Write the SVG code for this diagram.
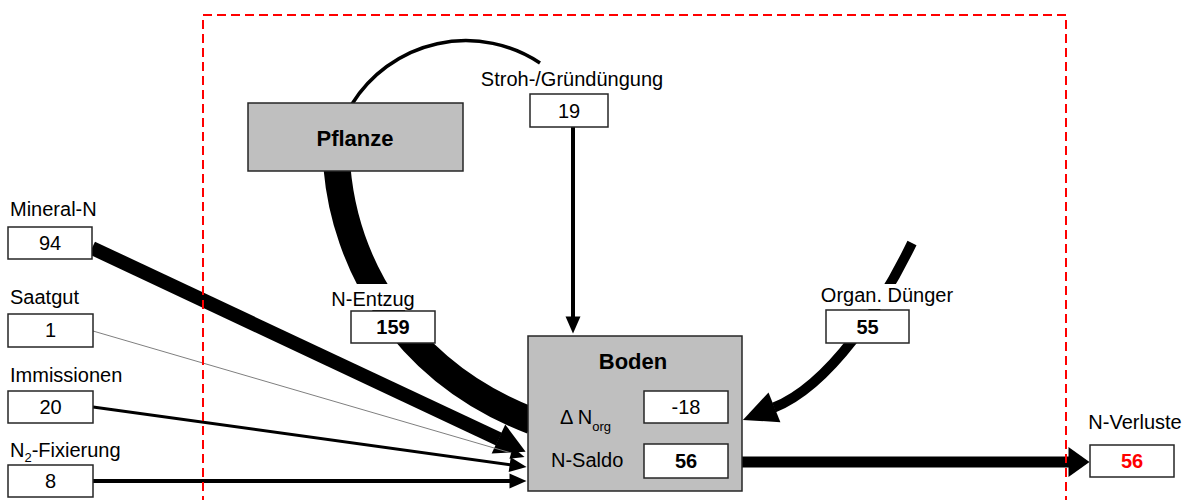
<svg xmlns="http://www.w3.org/2000/svg" width="1184" height="500" viewBox="0 0 1184 500">
<style>
  text { font-family: "Liberation Sans", Arial, sans-serif; font-size: 20px; fill: #000; }
  .c { text-anchor: middle; }
  .b { font-weight: bold; }
  .big { font-size: 22px; font-weight: bold; }
  .box { fill: #fff; stroke: #262626; stroke-width: 1.5; }
  .gbox { fill: #bfbfbf; stroke: #262626; stroke-width: 1.5; }
  .ln { fill: none; stroke: #000; }
  .thin { stroke: #7f7f7f; stroke-width: 1; }
  .red { fill: #ff0000; }
  .frame { fill: none; stroke: #ff0000; stroke-width: 2; stroke-dasharray: 9 5; }
</style>
<defs>
  <marker id="ah-s" markerUnits="userSpaceOnUse" markerWidth="17" markerHeight="15" refX="0.5" refY="7.5" orient="auto" overflow="visible"><path d="M0,0 L17,7.5 L0,15 z" fill="#000"/></marker>
  <marker id="ah-xs" markerUnits="userSpaceOnUse" markerWidth="14" markerHeight="12" refX="0.5" refY="6" orient="auto" overflow="visible"><path d="M0,0 L14,6 L0,12 z" fill="#000"/></marker>
  <marker id="ah-m" markerUnits="userSpaceOnUse" markerWidth="30" markerHeight="32" refX="0.5" refY="16" orient="auto" overflow="visible"><path d="M0,0 L30,16 L0,32 z" fill="#000"/></marker>
  <marker id="ah-v" markerUnits="userSpaceOnUse" markerWidth="21" markerHeight="30" refX="0.5" refY="15" orient="auto" overflow="visible"><path d="M0,0 L21,15 L0,30 z" fill="#000"/></marker>
  <marker id="ah-o" markerUnits="userSpaceOnUse" markerWidth="34" markerHeight="32" refX="0.5" refY="16" orient="auto" overflow="visible"><path d="M0,0 L34,16 L0,32 z" fill="#000"/></marker>
</defs>

<g id="connectors">
  <path class="ln" d="M352 104 A134 134 0 0 1 540 63" stroke-width="3.5"/>
  <path class="ln" d="M337 168 C345 260 400 370 532 421" stroke-width="27"/>
  <path class="ln" d="M573 127 V317" stroke-width="4" marker-end="url(#ah-s)"/>
  <path class="ln" d="M92 248 L498.9 439.2" stroke-width="14" marker-end="url(#ah-m)"/>
  <path class="ln thin" d="M93 331 L511.6 453.1" marker-end="url(#ah-xs)"/>
  <path class="ln" d="M93 407 L510.2 464.7" stroke-width="3" marker-end="url(#ah-s)"/>
  <path class="ln" d="M93 481 H510" stroke-width="4" marker-end="url(#ah-s)"/>
  <path class="ln" d="M912 243 C882 305 830 385 774 407.5" stroke-width="10" marker-end="url(#ah-o)"/>
  <path class="ln" d="M742 462 H1069" stroke-width="11" marker-end="url(#ah-v)"/>
</g>

<g id="pflanze">
  <rect class="gbox" x="248" y="103" width="215" height="68"/>
  <text class="c big" x="355" y="146">Pflanze</text>
</g>

<g id="stroh">
  <rect x="478" y="66" width="190" height="26" fill="#fff"/>
  <text class="c" x="572" y="86">Stroh-/Gründüngung</text>
  <rect class="box" x="530" y="94" width="78" height="33"/>
  <text class="c" x="569" y="117.5">19</text>
</g>

<g id="mineral">
  <text x="10" y="216">Mineral-N</text>
  <rect class="box" x="8" y="227" width="84" height="32"/>
  <text class="c" x="50" y="250">94</text>
</g>

<g id="saatgut">
  <text x="10" y="304">Saatgut</text>
  <rect class="box" x="8" y="314" width="85" height="33"/>
  <text class="c" x="50.5" y="337">1</text>
</g>

<g id="immissionen">
  <text x="10" y="382">Immissionen</text>
  <rect class="box" x="8" y="391" width="85" height="32"/>
  <text class="c" x="50.5" y="414">20</text>
</g>

<g id="fixierung">
  <text x="10" y="457">N<tspan font-size="13" dy="5">2</tspan><tspan dy="-5">-Fixierung</tspan></text>
  <rect class="box" x="8" y="465" width="85" height="32"/>
  <text class="c" x="50.5" y="488">8</text>
</g>

<g id="entzug">
  <rect x="330" y="284" width="86" height="26" fill="#fff"/>
  <text class="c" x="373" y="306">N-Entzug</text>
  <rect class="box" x="351" y="311" width="84" height="32"/>
  <text class="c b" x="393" y="334">159</text>
</g>

<g id="organ">
  <rect x="820" y="284" width="136" height="25" fill="#fff"/>
  <text class="c" x="887" y="302">Organ. Dünger</text>
  <rect class="box" x="826" y="310" width="83" height="33"/>
  <text class="c b" x="867.5" y="334">55</text>
</g>

<g id="boden">
  <rect class="gbox" x="528" y="336" width="214" height="155"/>
  <text class="c big" x="633" y="369">Boden</text>
  <text x="560" y="424">Δ N<tspan font-size="13" dy="7">org</tspan></text>
  <rect class="box" x="644" y="391" width="84" height="32"/>
  <text class="c" x="686" y="414">-18</text>
  <text x="551" y="467">N-Saldo</text>
  <rect class="box" x="644" y="444" width="84" height="34"/>
  <text class="c b" x="686" y="468">56</text>
</g>

<g id="verluste">
  <text class="c" x="1135" y="429">N-Verluste</text>
  <rect class="box" x="1090" y="445" width="84" height="32"/>
  <text class="c b red" x="1132" y="468">56</text>
</g>

<path id="systemgrenze" class="frame" d="M203 505 V15 H1066 V505"/>
</svg>
